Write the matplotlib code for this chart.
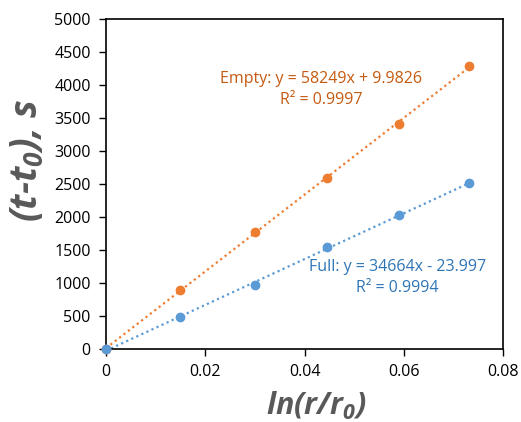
import numpy as np
import matplotlib
matplotlib.use("Agg")
import matplotlib.pyplot as plt

plt.rcParams['font.family'] = ['Open Sans', 'DejaVu Sans']
plt.rcParams['mathtext.default'] = 'regular'

x_vals = [0.0, 0.01497, 0.02995, 0.04453, 0.05896, 0.07307]
empty_t = [0, 895, 1779, 2589, 3408, 4283]
full_t = [0, 481, 971, 1542, 2023, 2513]

empty_label = ["Empty: y = 58249x + 9.9826", "R² = 0.9997"]
full_label = ["Full: y = 34664x - 23.997", "R² = 0.9994"]

x_ticks = [0, 0.02, 0.04, 0.06, 0.08]
x_tick_labels = ["0", "0.02", "0.04", "0.06", "0.08"]
y_ticks = list(range(0, 5001, 500))

orange = '#ED7D31'
blue = '#5B9BD5'

fig = plt.figure(figsize=(5.21, 4.22), dpi=100)
ax = fig.add_axes([0.2035, 0.173, 0.762, 0.782])

xs = np.array(x_vals)
for ys, col in [(empty_t, orange), (full_t, blue)]:
    ys = np.array(ys)
    m, b = np.polyfit(xs, ys, 1)
    xl = np.array([xs.min(), xs.max()])
    ax.plot(xl, m * xl + b, linestyle=(0, (1, 1.5)), color=col, lw=1.6, zorder=2)
    ax.plot(xs, ys, 'o', color=col, ms=6, zorder=3, clip_on=False)

fs = 11.5
ax.text(0.0434, 4096, empty_label[0], color='#C55A11', fontsize=fs, ha='center', va='center')
ax.text(0.0434, 3777, empty_label[1], color='#C55A11', fontsize=fs, ha='center', va='center')
ax.text(0.0587, 1244, full_label[0], color='#2E75B6', fontsize=fs, ha='center', va='center')
ax.text(0.0587, 925, full_label[1], color='#2E75B6', fontsize=fs, ha='center', va='center')

ax.set_xlim(0, 0.08)
ax.set_ylim(0, 5000)
ax.set_xticks(x_ticks)
ax.set_xticklabels(x_tick_labels)
ax.set_yticks(y_ticks)
ax.tick_params(direction='out', length=5, width=1, labelsize=11.5, colors='black', pad=6)
for s in ax.spines.values():
    s.set_linewidth(1.2)
    s.set_color('black')

ax.set_xlabel('ln(r/r$_0$)', fontsize=22, fontweight='bold', style='italic', color='#595959', va='center')
ax.set_ylabel('(t-t$_0$), s', fontsize=27, fontweight='bold', style='italic', color='#595959', va='center')
ax.xaxis.set_label_coords(0.529, -0.172)
ax.yaxis.set_label_coords(-0.197, 0.573)

fig.savefig('out.png', dpi=100)
